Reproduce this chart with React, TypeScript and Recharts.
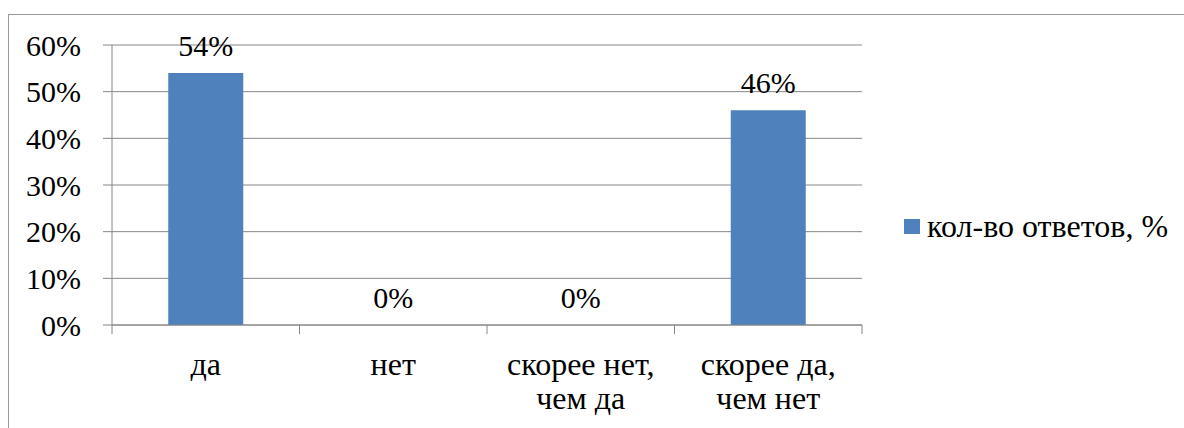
import { ComposedChart, Bar, Line, XAxis, YAxis, CartesianGrid, LabelList } from "recharts";

const categories = ["да", "нет", "скорее нет,\nчем да", "скорее да,\nчем нет"];
const answers = [54, 0, 0, 46];
const yTicks = [0, 10, 20, 30, 40, 50, 60];
const seriesName = "кол-во ответов, %";
const barColor = "#4F81BD";

const data = categories.map((name, i) => ({ name, value: answers[i] }));

const W = 1184;
const H = 428;
const Y_W = 112;
const margin = { top: 45, right: 322, bottom: 13, left: 0 };
const band = (W - margin.right - margin.left - Y_W) / categories.length;
const FONT = "Liberation Serif";
const FS = 30; // numbers
const FS_TEXT = 32; // cyrillic labels come out a bit wider in the original
const AXIS = "#868686";

// category labels with tick marks on the band edges
const CategoryTick = (props: any) => {
  const { x, y, payload, index } = props;
  const lines = String(payload.value).split("\n");
  const half = band / 2;
  return (
    <g>
      <line x1={x - half} x2={x - half} y1={y} y2={y + 9} stroke={AXIS} />
      {index === categories.length - 1 && (
        <line x1={x + half} x2={x + half} y1={y} y2={y + 9} stroke={AXIS} />
      )}
      <text x={x} y={y + 50} textAnchor="middle" fill="#000" fontSize={FS_TEXT} fontFamily={FONT}>
        {lines.map((l, i) => (
          <tspan key={i} x={x} dy={i === 0 ? 0 : 34}>
            {l}
          </tspan>
        ))}
      </text>
    </g>
  );
};

export default function App() {
  return (
    <div
      style={{
        position: "fixed",
        left: 0,
        top: 0,
        width: W,
        height: H,
        overflow: "hidden",
        background: "#fff",
      }}
    >
      <div
        style={{
          position: "absolute",
          left: 8,
          top: 14,
          width: 1200,
          height: 440,
          border: "1px solid #9a9a9a",
        }}
      />
      <div style={{ position: "absolute", left: 0, top: 0 }}>
        <ComposedChart width={W} height={H} data={data} margin={margin} barCategoryGap="30%">
          <CartesianGrid vertical={false} stroke={AXIS} />
          <XAxis
            dataKey="name"
            height={90}
            stroke={AXIS}
            tickLine={false}
            tickSize={0}
            tickMargin={0}
            interval={0}
            tick={<CategoryTick />}
          />
          <YAxis
            width={Y_W}
            domain={[0, 60]}
            ticks={yTicks}
            interval={0}
            tickFormatter={(v) => `${v}%`}
            stroke={AXIS}
            tickSize={9}
            tickMargin={22}
            tick={{ fill: "#000", fontSize: FS, fontFamily: FONT }}
          />
          <Bar dataKey="value" name={seriesName} fill={barColor} isAnimationActive={false} />
          {/* invisible line only carries the value labels, so 0% bars get labels too */}
          <Line
            dataKey="value"
            stroke="none"
            dot={false}
            activeDot={false}
            legendType="none"
            isAnimationActive={false}
          >
            <LabelList
              dataKey="value"
              position="top"
              offset={17}
              formatter={(v: any) => `${v}%`}
              fill="#000"
              fontSize={FS}
              fontFamily={FONT}
            />
          </Line>
        </ComposedChart>
      </div>
      <div
        style={{
          position: "absolute",
          left: 904,
          top: 208,
          display: "flex",
          alignItems: "center",
          whiteSpace: "nowrap",
          fontFamily: FONT,
          fontSize: FS_TEXT,
          color: "#000",
        }}
      >
        <span style={{ width: 16, height: 15, background: barColor, marginRight: 7 }} />
        <span>{seriesName}</span>
      </div>
    </div>
  );
}
